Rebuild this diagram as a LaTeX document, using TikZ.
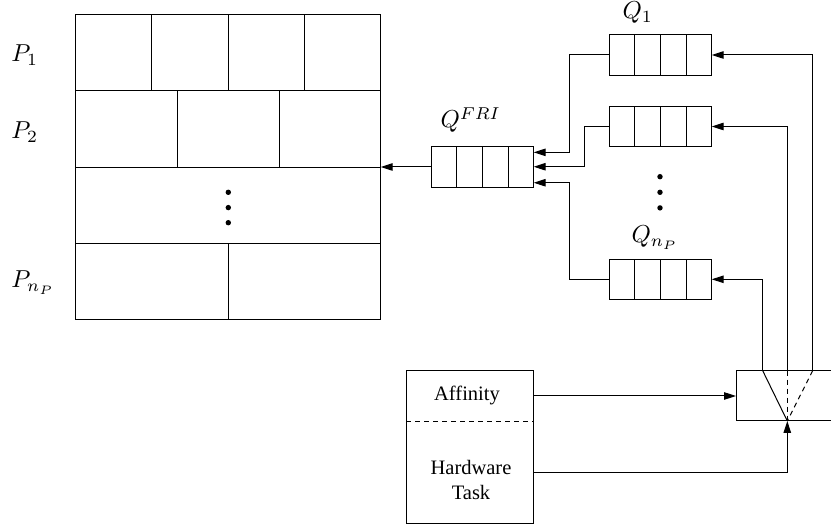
\documentclass[tikz,border=0pt]{standalone}
\usepackage[no-math]{fontspec}
\usepackage{graphicx}
\setmainfont{Liberation Serif}
\usetikzlibrary{arrows.meta,calc}
\newcommand{\bigmath}[1]{\scalebox{2.45}{$#1$}}
\begin{document}
\begin{tikzpicture}[x=1pt,y=-1pt,line width=1pt,
  arr/.style={-{Triangle[length=12pt,width=7.5pt]}},
  rowbox/.style={draw,minimum width=305pt,minimum height=76.4pt,inner sep=0pt,outer sep=0pt},
  queue/.style={draw,minimum width=102.4pt,minimum height=40.5pt,inner sep=0pt,outer sep=0pt},
  mlabel/.style={inner sep=0pt,anchor=base west,font=\fontsize{10}{12}\selectfont},
  tlabel/.style={inner sep=0pt,align=center,font=\fontsize{20.5}{24.5}\selectfont},
  dashln/.style={dash pattern=on 5pt off 4pt},
  dot/.style={fill=black}]
\useasboundingbox (0,0) rectangle (831,526);
\clip (0,0) rectangle (831,526);
% processor rows
\node[rowbox] (row1) at (228.2,52.5) {};
\node[rowbox] (row2) at (228.2,128.9) {};
\node[rowbox] (row3) at (228.2,205.3) {};
\node[rowbox] (row4) at (228.2,281.7) {};
\foreach \f in {0.25,0.5,0.75}
  \draw ($(row1.north west)!\f!(row1.north east)$) -- ($(row1.south west)!\f!(row1.south east)$);
\foreach \f in {0.3333,0.6667}
  \draw ($(row2.north west)!\f!(row2.north east)$) -- ($(row2.south west)!\f!(row2.south east)$);
\draw ($(row4.north west)!0.5!(row4.north east)$) -- ($(row4.south west)!0.5!(row4.south east)$);
\foreach \yy in {192.3,207.6,222.7} \fill[dot] (228.3,\yy) circle (2.7pt);
\node[mlabel] (p1) at (11,62) {\bigmath{P_1}};
\node[mlabel] (p2) at (11,139) {\bigmath{P_2}};
\node[mlabel] (pn) at (11,288) {\bigmath{P_{n_P}}};
% queues
\node[queue] (qfri) at (482.5,167) {};
\node[queue] (q1) at (660.5,55) {};
\node[queue] (q2) at (660.5,126.5) {};
\node[queue] (qn) at (660.5,279.3) {};
\foreach \q in {qfri,q1,q2,qn}
  \foreach \f in {0.25,0.5,0.75}
    \draw ($(\q.north west)!\f!(\q.north east)$) -- ($(\q.south west)!\f!(\q.south east)$);
\foreach \yy in {176.7,192.3,207.9} \fill[dot] (660,\yy) circle (2.7pt);
\node[mlabel] (lfri) at (440,128) {\bigmath{Q^{FRI}}};
\node[mlabel] (lq1) at (622,19) {\bigmath{Q_1}};
\node[mlabel] (lqn) at (631,243) {\bigmath{Q_{n_P}}};
% queue connectors
\draw[arr] (qfri.west) -- (qfri.west -| row3.east);
\coordinate (in1) at ($(qfri.north east)+(0,5.6)$);
\coordinate (in2) at ($(qfri.north east)+(0,20)$);
\coordinate (in3) at ($(qfri.north east)+(0,36)$);
\draw[arr] (q1.west) -- ++(-40.3,0) |- (in1);
\draw[arr] (q2.west) -- ++(-25.3,0) |- (in2);
\draw[arr] (qn.west) -- ++(-40,0) |- (in3);
% dispatcher
\node[draw,minimum width=100pt,minimum height=50.3pt,inner sep=0pt,outer sep=0pt] (disp) at (786,395.85) {};
\coordinate (d1) at (762.7,370.7);
\coordinate (d2) at (787.3,370.7);
\coordinate (d3) at (812.7,370.7);
\coordinate (dbot) at (787.3,421);
\draw (d1) -- (dbot);
\draw[dashln] (d2) -- (dbot);
\draw[dashln] (d3) -- (dbot);
\draw[arr] (d1) |- (qn.east);
\draw[arr] (d2) |- (q2.east);
\draw[arr] (d3) |- (q1.east);
% task box
\node[draw,minimum width=127.3pt,minimum height=152.6pt,inner sep=0pt,outer sep=0pt] (task) at (469.7,447) {};
\draw[dashln] ($(task.north west)+(0,51)$) -- ($(task.north east)+(0,51)$);
\node[tlabel,anchor=base] (afftxt) at (467,401) {Affinity};
\node[tlabel] (hwtxt) at (471,480) {Hardware\\Task};
\coordinate (aff) at ($(task.north east)+(0,25.3)$);
\coordinate (hw) at ($(task.north east)+(0,101.6)$);
\draw[arr] (aff) -- (aff -| disp.west);
\draw[arr] (hw) -| (dbot);
\end{tikzpicture}
\end{document}
